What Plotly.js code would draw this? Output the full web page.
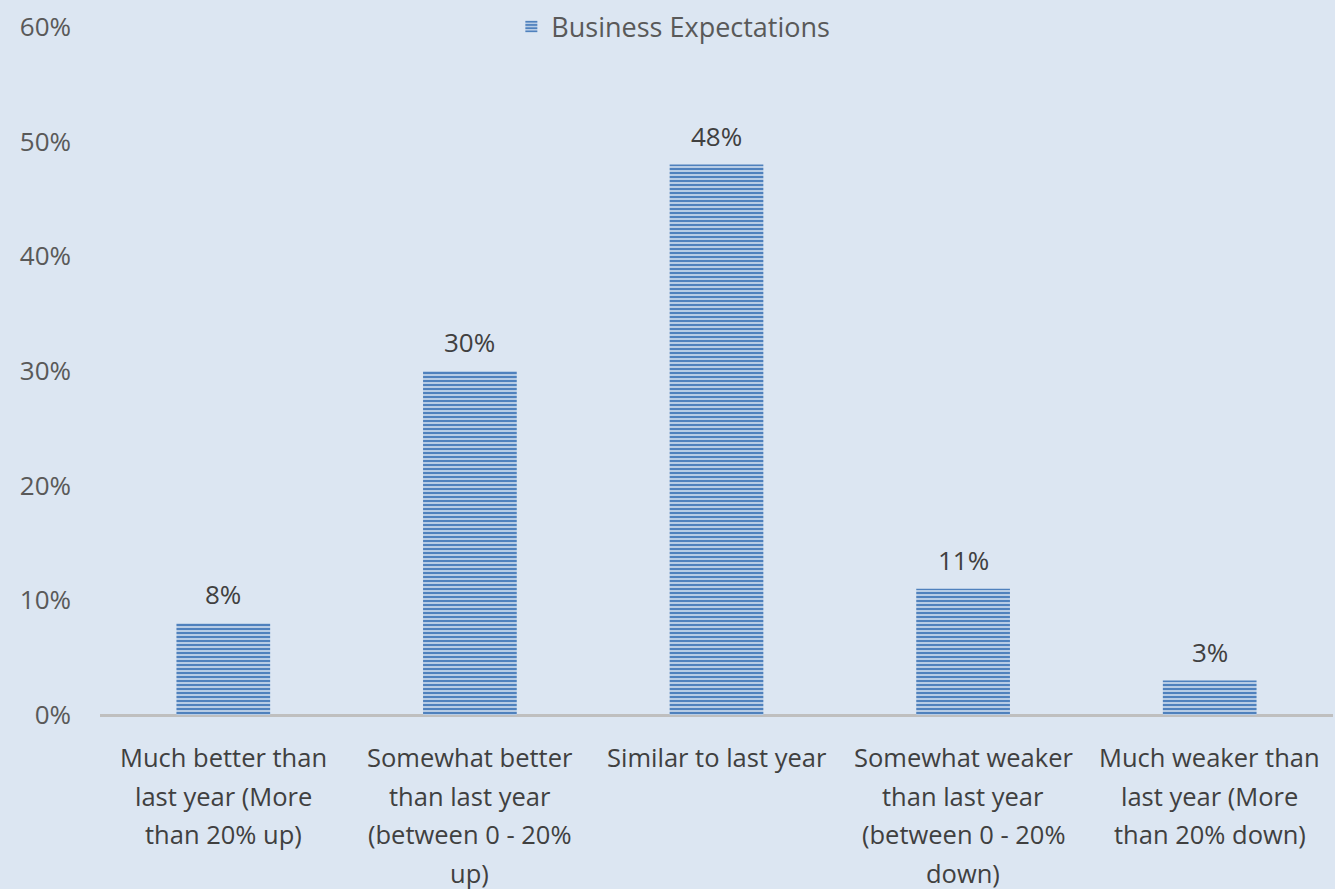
<!DOCTYPE html>
<html><head><meta charset="utf-8">
<script src="https://cdn.plot.ly/plotly-3.0.1.min.js"></script>
<style>html,body{margin:0;padding:0;background:#dce6f2;}#chart{width:1335px;height:889px;}</style>
</head><body><div id="chart"></div>
<script>
const categories = [
  "Much better than last year (More than 20% up)",
  "Somewhat better than last year (between 0 - 20% up)",
  "Similar to last year",
  "Somewhat weaker than last year (between 0 - 20% down)",
  "Much weaker than last year (More than 20% down)"
];
const categoryLines = [
  ["Much better than", "last year (More", "than 20% up)"],
  ["Somewhat better", "than last year", "(between 0 - 20%", "up)"],
  ["Similar to last year"],
  ["Somewhat weaker", "than last year", "(between 0 - 20%", "down)"],
  ["Much weaker than", "last year (More", "than 20% down)"]
];
const values = [0.08, 0.30, 0.48, 0.11, 0.03];
const valueLabels = ["8%", "30%", "48%", "11%", "3%"];
const seriesName = "Business Expectations";
const yTicks = [0, 0.1, 0.2, 0.3, 0.4, 0.5, 0.6];
const yTickLabels = ["0%", "10%", "20%", "30%", "40%", "50%", "60%"];

const fam = "Open Sans, sans-serif";
const trace = {
  type: "bar",
  x: categories,
  y: values,
  name: seriesName,
  showlegend: true,
  width: 0.38,
  marker: {
    color: "#c3d4ea",
    line: {width: 0},
    pattern: {shape: "-", fgcolor: "#4f81bd", bgcolor: "#c3d4ea", fgopacity: 1, size: 4, solidity: 0.55, fillmode: "replace"}
  },
  hoverinfo: "skip"
};
const annotations = [];
categoryLines.forEach((lines, i) => {
  lines.forEach((ln, j) => {
    annotations.push({x: categories[i], xref: "x", y: 0, yref: "paper", yanchor: "middle",
      yshift: -(42 + 38.6 * j), text: ln, showarrow: false,
      font: {family: fam, size: 25.5, color: "#404040"}});
  });
});
values.forEach((v, i) => {
  annotations.push({x: categories[i], xref: "x", y: v, yref: "y", yanchor: "middle",
    yshift: 29, text: valueLabels[i], showarrow: false,
    font: {family: fam, size: 26, color: "#404040"}});
});
const layout = {
  width: 1335, height: 889,
  paper_bgcolor: "#dce6f2", plot_bgcolor: "#dce6f2",
  margin: {l: 100, r: 2, t: 24, b: 174},
  font: {family: fam, size: 26, color: "#595959"},
  showlegend: true,
  legend: {orientation: "h", x: 0.465, xanchor: "center", y: 1.0, yanchor: "middle",
           font: {family: fam, size: 27, color: "#595959"}, bgcolor: "rgba(0,0,0,0)"},
  xaxis: {
    type: "category", showgrid: false, zeroline: false, showline: false,
    ticks: "", showticklabels: false
  },
  yaxis: {
    range: [0, 0.6], tickvals: yTicks, ticktext: yTickLabels,
    showgrid: false, zeroline: true, zerolinecolor: "#bfbfbf", zerolinewidth: 3,
    showline: false, ticks: "", ticklabelstandoff: 28,
    tickfont: {family: fam, size: 26, color: "#595959"}
  },
  annotations: annotations
};
Plotly.newPlot("chart", [trace], layout, {displayModeBar: false, staticPlot: true});
</script></body></html>
